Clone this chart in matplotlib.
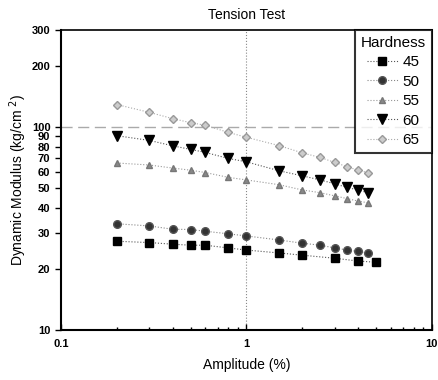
import matplotlib.pyplot as plt

plt.rcParams['font.family'] = ['Liberation Sans', 'DejaVu Sans']

amp_a = [0.2, 0.3, 0.4, 0.5, 0.6, 0.8, 1.0, 1.5, 2.0, 3.0, 4.0, 5.0]
amp_b = [0.2, 0.3, 0.4, 0.5, 0.6, 0.8, 1.0, 1.5, 2.0, 2.5, 3.0, 3.5, 4.0, 4.5]

h45 = [27.4, 27.0, 26.5, 26.2, 26.2, 25.4, 24.8, 24.0, 23.4, 22.6, 21.9, 21.6]
h50 = [33.4, 32.6, 31.4, 31.3, 30.7, 29.8, 29.1, 27.8, 26.8, 26.2, 25.4, 24.8, 24.4, 24.0]
h55 = [66.5, 65.0, 62.8, 61.3, 59.7, 56.5, 54.9, 52.0, 49.0, 47.5, 45.8, 44.4, 43.2, 42.4]
h60 = [90.6, 85.9, 80.8, 77.6, 75.0, 70.0, 67.4, 60.9, 57.5, 54.9, 52.5, 50.4, 49.0, 47.5]
h65 = [129, 118, 110, 105, 102, 94, 89, 81, 74.6, 70.8, 66.9, 63.7, 61.3, 59.7]

labels = ['45', '50', '55', '60', '65']
yticks = [10, 20, 30, 40, 50, 60, 70, 80, 90, 100, 200, 300]

fig = plt.figure(figsize=(4.38, 3.80), dpi=100)
ax = fig.add_axes([0.139, 0.131, 0.847, 0.79])

ax.axvline(1, color='#888888', lw=0.8, ls=':', zorder=0)
ax.axhline(100, color='#aaaaaa', lw=1.0, ls=(0, (8, 4)), zorder=0)

ax.plot(amp_a, h45, ls=':', color='#555555', lw=0.8, marker='s', ms=5.5,
        mfc='black', mec='black', label=labels[0])
ax.plot(amp_b, h50, ls=':', color='#888888', lw=0.8, marker='o', ms=5.5,
        mfc='#333333', mec='#555555', label=labels[1])
ax.plot(amp_b, h55, ls=':', color='#999999', lw=0.8, marker='^', ms=5,
        mfc='#888888', mec='#777777', label=labels[2])
ax.plot(amp_b, h60, ls=':', color='#555555', lw=0.8, marker='v', ms=6.5,
        mfc='black', mec='black', label=labels[3])
ax.plot(amp_b, h65, ls=':', color='#aaaaaa', lw=0.8, marker='D', ms=4.5,
        mfc='#cccccc', mec='#999999', label=labels[4])

ax.set_xscale('log')
ax.set_yscale('log')
ax.set_xlim(0.1, 10)
ax.set_ylim(10, 300)
ax.set_xticks([0.1, 1, 10])
ax.set_xticklabels(['0.1', '1', '10'], fontweight='bold', fontsize=8)
ax.set_yticks(yticks)
ax.set_yticklabels([str(t) for t in yticks], fontweight='bold', fontsize=8)
ax.yaxis.set_minor_locator(plt.NullLocator())
ax.tick_params(axis='y', direction='out', length=4, width=1)
ax.tick_params(axis='x', which='both', direction='in', length=4, width=1, pad=6)
ax.tick_params(axis='x', which='minor', length=2.5)

for s in ['left', 'bottom']:
    ax.spines[s].set_linewidth(1.5)
for s in ['top', 'right']:
    ax.spines[s].set_linewidth(1.2)

ax.set_title('Tension Test', fontsize=10, pad=8)
ax.set_xlabel('Amplitude (%)', fontsize=10, labelpad=7)
ax.set_ylabel('Dynamic Modulus (kg/cm $^{2}$)', fontsize=10, labelpad=2)

leg = ax.legend(title='Hardness', loc='upper right', fontsize=11, title_fontsize=11,
                frameon=True, fancybox=False, edgecolor='black', borderpad=0.4,
                handlelength=2.0, handletextpad=0.3, labelspacing=0.35,
                borderaxespad=0.0)
leg.get_frame().set_linewidth(1.5)

fig.savefig('out.png', dpi=100)
